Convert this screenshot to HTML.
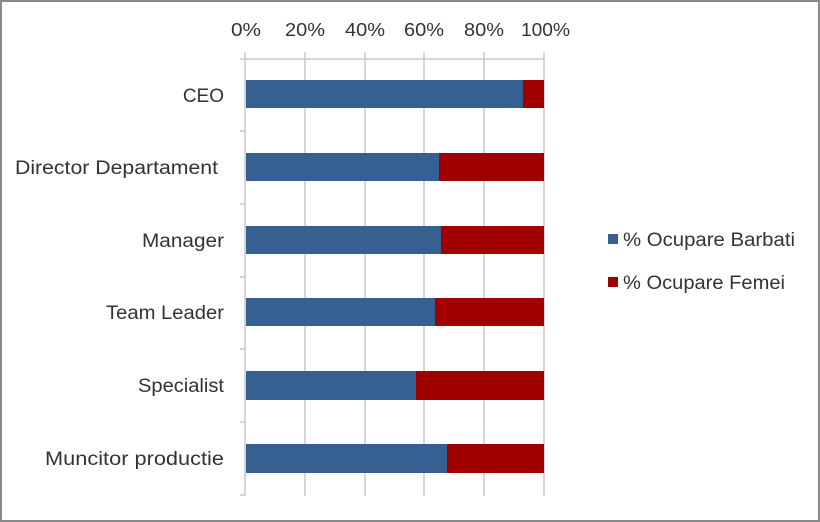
<!DOCTYPE html>
<html><head><style>
html,body{margin:0;padding:0;background:#fff;}
svg{display:block;font-family:"Liberation Sans",Calibri,sans-serif;}
</style></head><body>
<svg width="820" height="522" viewBox="0 0 820 522">
<rect x="1" y="1" width="818" height="520" fill="#fff" stroke="#8a8a8a" stroke-width="2"/>
<g stroke="#c8c8c8" stroke-width="1.5">
<line x1="305" y1="52" x2="305" y2="496"/>
<line x1="365" y1="52" x2="365" y2="496"/>
<line x1="424" y1="52" x2="424" y2="496"/>
<line x1="484" y1="52" x2="484" y2="496"/>
<line x1="544" y1="52" x2="544" y2="496"/>
<line x1="245" y1="52" x2="245" y2="496"/>
<line x1="240" y1="59" x2="544" y2="59"/>
<line x1="240" y1="131" x2="245" y2="131"/>
<line x1="240" y1="204" x2="245" y2="204"/>
<line x1="240" y1="277" x2="245" y2="277"/>
<line x1="240" y1="349" x2="245" y2="349"/>
<line x1="240" y1="422" x2="245" y2="422"/>
<line x1="240" y1="495" x2="245" y2="495"/>
</g>
<g font-size="18" fill="#333">
<text x="231" y="36" textLength="30" lengthAdjust="spacingAndGlyphs">0%</text>
<text x="285" y="36" textLength="40" lengthAdjust="spacingAndGlyphs">20%</text>
<text x="345" y="36" textLength="40" lengthAdjust="spacingAndGlyphs">40%</text>
<text x="404" y="36" textLength="40" lengthAdjust="spacingAndGlyphs">60%</text>
<text x="464" y="36" textLength="40" lengthAdjust="spacingAndGlyphs">80%</text>
<text x="521" y="36" textLength="49" lengthAdjust="spacingAndGlyphs">100%</text>
</g>
<g fill="#376092">
<rect x="246" y="80" width="277" height="28"/>
<rect x="246" y="153" width="193" height="28"/>
<rect x="246" y="226" width="195" height="28"/>
<rect x="246" y="298" width="189" height="28"/>
<rect x="246" y="371" width="170" height="29"/>
<rect x="246" y="444" width="201" height="29"/>
</g>
<g fill="#a00000">
<rect x="523" y="80" width="21" height="28"/>
<rect x="439" y="153" width="105" height="28"/>
<rect x="441" y="226" width="103" height="28"/>
<rect x="435" y="298" width="109" height="28"/>
<rect x="416" y="371" width="128" height="29"/>
<rect x="447" y="444" width="97" height="29"/>
</g>
<g font-size="19" fill="#333">
<text x="224" y="102" text-anchor="end">CEO</text>
<text x="15" y="174" textLength="203" lengthAdjust="spacingAndGlyphs">Director Departament</text>
<text x="142" y="247" textLength="82" lengthAdjust="spacingAndGlyphs">Manager</text>
<text x="106" y="319" textLength="118" lengthAdjust="spacingAndGlyphs">Team Leader</text>
<text x="138" y="392" textLength="86" lengthAdjust="spacingAndGlyphs">Specialist</text>
<text x="45" y="465" textLength="179" lengthAdjust="spacingAndGlyphs">Muncitor productie</text>
</g>
<rect x="608" y="234" width="10" height="10" fill="#376092"/>
<rect x="608" y="277" width="10" height="10" fill="#a00000"/>
<g font-size="19" fill="#333">
<text x="623" y="246" textLength="172" lengthAdjust="spacingAndGlyphs">% Ocupare Barbati</text>
<text x="623" y="289" textLength="162" lengthAdjust="spacingAndGlyphs">% Ocupare Femei</text>
</g>
</svg>
</body></html>
